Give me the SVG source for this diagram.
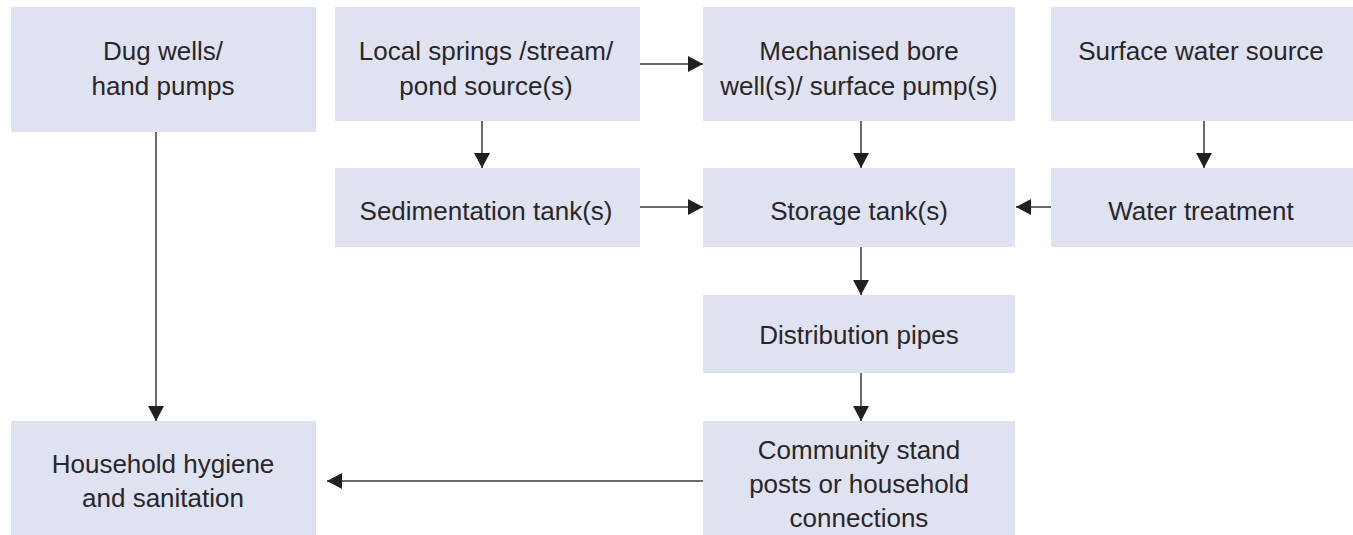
<svg xmlns="http://www.w3.org/2000/svg" width="1353" height="535" viewBox="0 0 1353 535">
<defs>
<style>
.box{fill:#dfe2f1;}
.t{font-family:"Liberation Sans",Arial,sans-serif;font-size:26px;fill:#2a2627;text-anchor:middle;}
.c{stroke:#3a3a3a;stroke-width:1.5;fill:none;marker-end:url(#ah);}
</style>
<marker id="ah" markerUnits="userSpaceOnUse" markerWidth="15" markerHeight="16" refX="15" refY="8" orient="auto">
<path d="M0,0 L15,8 L0,16 z" fill="#231f20"/>
</marker>
</defs>
<rect width="1353" height="535" fill="#ffffff"/>
<g id="connectors">
<line class="c" x1="640" y1="64" x2="703" y2="64"/>
<line class="c" x1="482" y1="121" x2="482" y2="168"/>
<line class="c" x1="861" y1="121" x2="861" y2="168"/>
<line class="c" x1="1204" y1="121" x2="1204" y2="168"/>
<line class="c" x1="640" y1="207" x2="703" y2="207"/>
<line class="c" x1="1051" y1="207" x2="1016" y2="207"/>
<line class="c" x1="861" y1="247" x2="861" y2="295"/>
<line class="c" x1="861" y1="373" x2="861" y2="421"/>
<line class="c" x1="156" y1="132" x2="156" y2="421"/>
<line class="c" x1="703" y1="481" x2="327" y2="481"/>
</g>
<g id="dug-wells">
<rect class="box" x="11" y="7" width="305" height="125"/>
<text class="t" x="163" y="60">Dug wells/</text>
<text class="t" x="163" y="95">hand pumps</text>
</g>
<g id="local-springs">
<rect class="box" x="335" y="7" width="305" height="114"/>
<text class="t" x="486" y="60">Local springs /stream/</text>
<text class="t" x="486" y="95">pond source(s)</text>
</g>
<g id="mechanised">
<rect class="box" x="703" y="7" width="312" height="114"/>
<text class="t" x="859" y="60">Mechanised bore</text>
<text class="t" x="859" y="95">well(s)/ surface pump(s)</text>
</g>
<g id="surface-water">
<rect class="box" x="1051" y="7" width="302" height="114"/>
<text class="t" x="1201" y="60">Surface water source</text>
</g>
<g id="sedimentation">
<rect class="box" x="335" y="168" width="305" height="79"/>
<text class="t" x="486" y="220">Sedimentation tank(s)</text>
</g>
<g id="storage">
<rect class="box" x="703" y="168" width="312" height="79"/>
<text class="t" x="859" y="220">Storage tank(s)</text>
</g>
<g id="water-treatment">
<rect class="box" x="1051" y="168" width="302" height="79"/>
<text class="t" x="1201" y="220">Water treatment</text>
</g>
<g id="distribution">
<rect class="box" x="703" y="295" width="312" height="78"/>
<text class="t" x="859" y="344">Distribution pipes</text>
</g>
<g id="community">
<rect class="box" x="703" y="421" width="312" height="114"/>
<text class="t" x="859" y="459">Community stand</text>
<text class="t" x="859" y="493">posts or household</text>
<text class="t" x="859" y="527">connections</text>
</g>
<g id="household">
<rect class="box" x="11" y="421" width="305" height="114"/>
<text class="t" x="163" y="473">Household hygiene</text>
<text class="t" x="163" y="507">and sanitation</text>
</g>
</svg>
